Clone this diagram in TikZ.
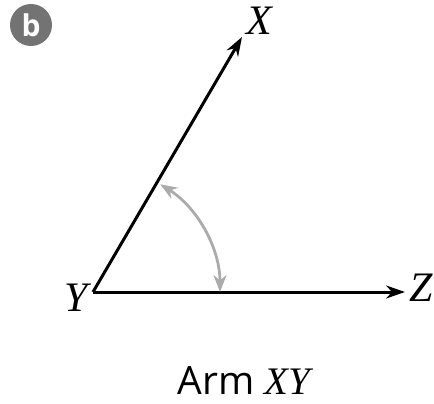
\documentclass[tikz,border=0pt]{standalone}
\usepackage{fontspec}
\setmainfont{Liberation Serif}
\newfontfamily\capfont{Open Sans}
\usetikzlibrary{arrows.meta}
\begin{document}
\begin{tikzpicture}[x=1pt,y=-1pt,
  ray/.style={line width=3pt,-{Stealth[length=19pt,width=13pt]}},
  anglearc/.style={line width=2.8pt,color=black!33,{Stealth[length=17pt,width=13pt]}-{Stealth[length=17pt,width=13pt]}},
  lbl/.style={font=\fontsize{42}{44}\selectfont\itshape,inner sep=0pt},
  badge/.style={circle,fill=black!55,text=white,minimum size=42pt,inner sep=0pt,font=\capfont\bfseries\fontsize{30}{30}\selectfont}]
\useasboundingbox (0,0) rectangle (434,404);
\node[badge] (b) at (31,25) {b};
\coordinate (Y) at (93,292);
\coordinate (X) at (242,37);
\coordinate (Z) at (405,292);
\draw[ray] (Y) -- (X);
\draw[ray] (Y) -- (Z);
\draw[anglearc] (160.3,184.3) arc[start angle=-58,end angle=0,radius=127];
\node[lbl] (lx) at (259,21) {X};
\node[lbl] (ly) at (76,298) {Y};
\node[lbl] (lz) at (421,288) {Z};
\node[inner sep=0pt] (cap) at (244,381) {\capfont\fontsize{39}{41}\selectfont Arm \rmfamily\itshape XY};
\end{tikzpicture}
\end{document}
